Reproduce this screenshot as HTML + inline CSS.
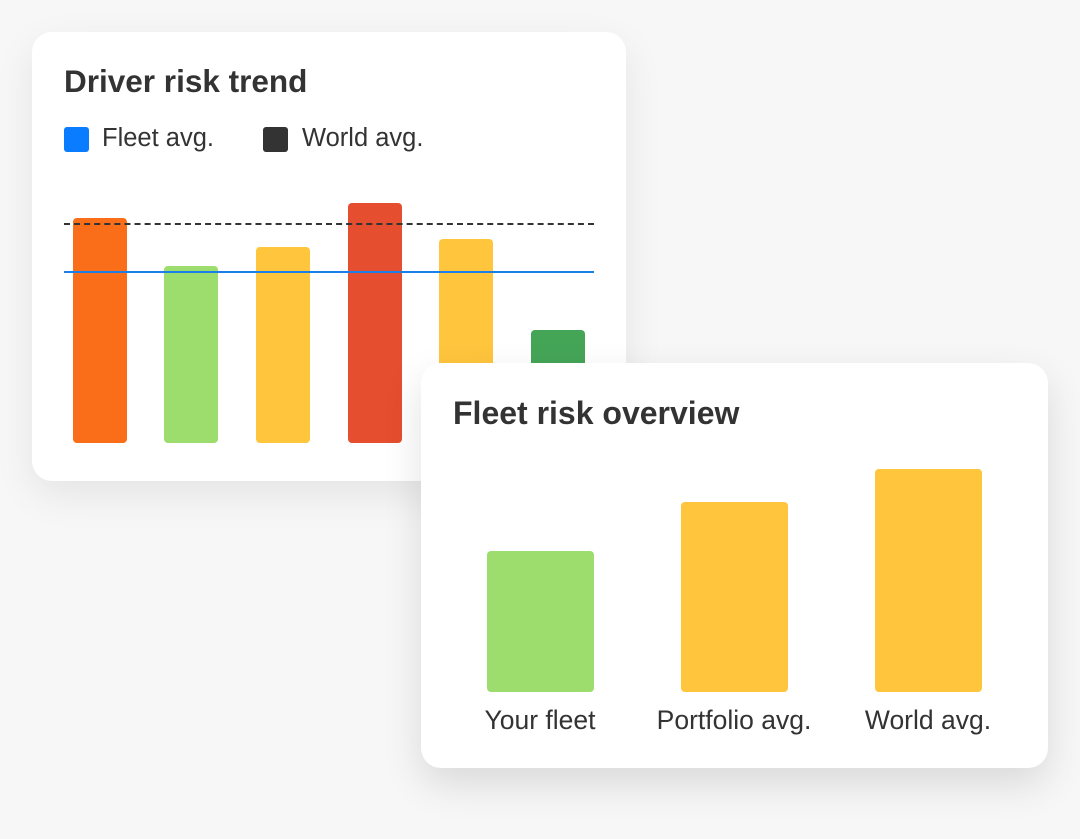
<!DOCTYPE html>
<html><head><meta charset="utf-8"><style>
html,body{margin:0;padding:0}
body{width:1080px;height:839px;background:#f7f7f7;position:relative;overflow:hidden;font-family:"Liberation Sans",sans-serif;color:#333}
.card{position:absolute;background:#fff;border-radius:20px;box-shadow:0 14px 40px rgba(0,0,0,0.08)}
.t{position:absolute;font-weight:bold;font-size:31.5px;color:#333;white-space:nowrap}
.b{position:absolute;border-radius:4px}
.lg{position:absolute;font-size:25.5px;white-space:nowrap}
.sq{position:absolute;width:25px;height:25px;border-radius:3px}
.lab{position:absolute;font-size:26.5px;text-align:center;width:220px;white-space:nowrap}
</style></head><body>
<div class="card" style="left:32px;top:32px;width:594px;height:449px"></div>
<div class="t" style="left:64px;top:63px">Driver risk trend</div>
<div class="sq" style="left:64px;top:127px;background:#0a7cff"></div>
<div class="lg" style="left:102px;top:124px">Fleet avg.</div>
<div class="sq" style="left:263px;top:127px;background:#333"></div>
<div class="lg" style="left:302px;top:124px">World avg.</div>
<div class="b" style="left:73px;top:218px;width:54px;height:225px;background:#fa6e19"></div>
<div class="b" style="left:164px;top:266px;width:54px;height:177px;background:#9cdd6e"></div>
<div class="b" style="left:256px;top:247px;width:54px;height:196px;background:#ffc53d"></div>
<div class="b" style="left:348px;top:203px;width:54px;height:240px;background:#e54e2f"></div>
<div class="b" style="left:439px;top:239px;width:54px;height:204px;background:#ffc53d"></div>
<div class="b" style="left:531px;top:330px;width:54px;height:113px;background:#45a557"></div>
<div style="position:absolute;left:64px;top:223px;width:530px;border-top:2px dashed #333"></div>
<div style="position:absolute;left:64px;top:271px;width:530px;height:2px;background:#1a7fe8"></div>
<div class="card" style="left:421px;top:363px;width:627px;height:405px;box-shadow:0 16px 40px rgba(0,0,0,0.12)"></div>
<div class="t" style="left:453px;top:395px;font-size:32px">Fleet risk overview</div>
<div class="b" style="left:487px;top:551px;width:107px;height:141px;background:#9cdd6e"></div>
<div class="b" style="left:681px;top:502px;width:107px;height:190px;background:#ffc53d"></div>
<div class="b" style="left:875px;top:469px;width:107px;height:223px;background:#ffc53d"></div>
<div class="lab" style="left:430px;top:705px">Your fleet</div>
<div class="lab" style="left:624px;top:705px">Portfolio avg.</div>
<div class="lab" style="left:818px;top:705px">World avg.</div>
</body></html>
